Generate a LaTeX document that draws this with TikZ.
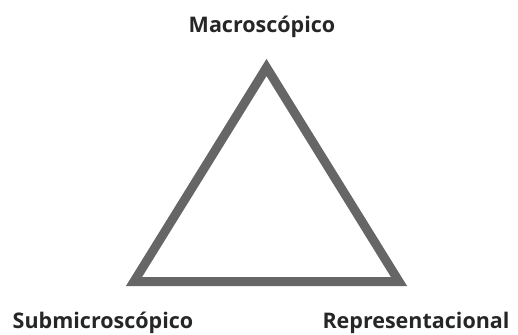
\documentclass[tikz,border=0pt]{standalone}
\usepackage{fontspec}
\setmainfont{Open Sans}
\begin{document}
\begin{tikzpicture}[x=1pt,y=-1pt,
  lbl/.style={font=\bfseries\fontsize{21.5}{25}\selectfont, text=black!85, inner sep=0pt, anchor=base},
  tri/.style={draw=black!60, line width=9pt, miter limit=10, line join=miter}]
\useasboundingbox (0,0) rectangle (518,334);
\coordinate (A) at (266.5,67.5);
\coordinate (B) at (134,281.5);
\coordinate (C) at (399,281.5);
\draw[tri] (A) -- (B) -- (C) -- cycle;
\node[lbl] (top) at (262,33) {Macroscópico};
\node[lbl] (bl) at (103,328) {Submicroscópico};
\node[lbl] (br) at (416,328) {Representacional};
\end{tikzpicture}
\end{document}
